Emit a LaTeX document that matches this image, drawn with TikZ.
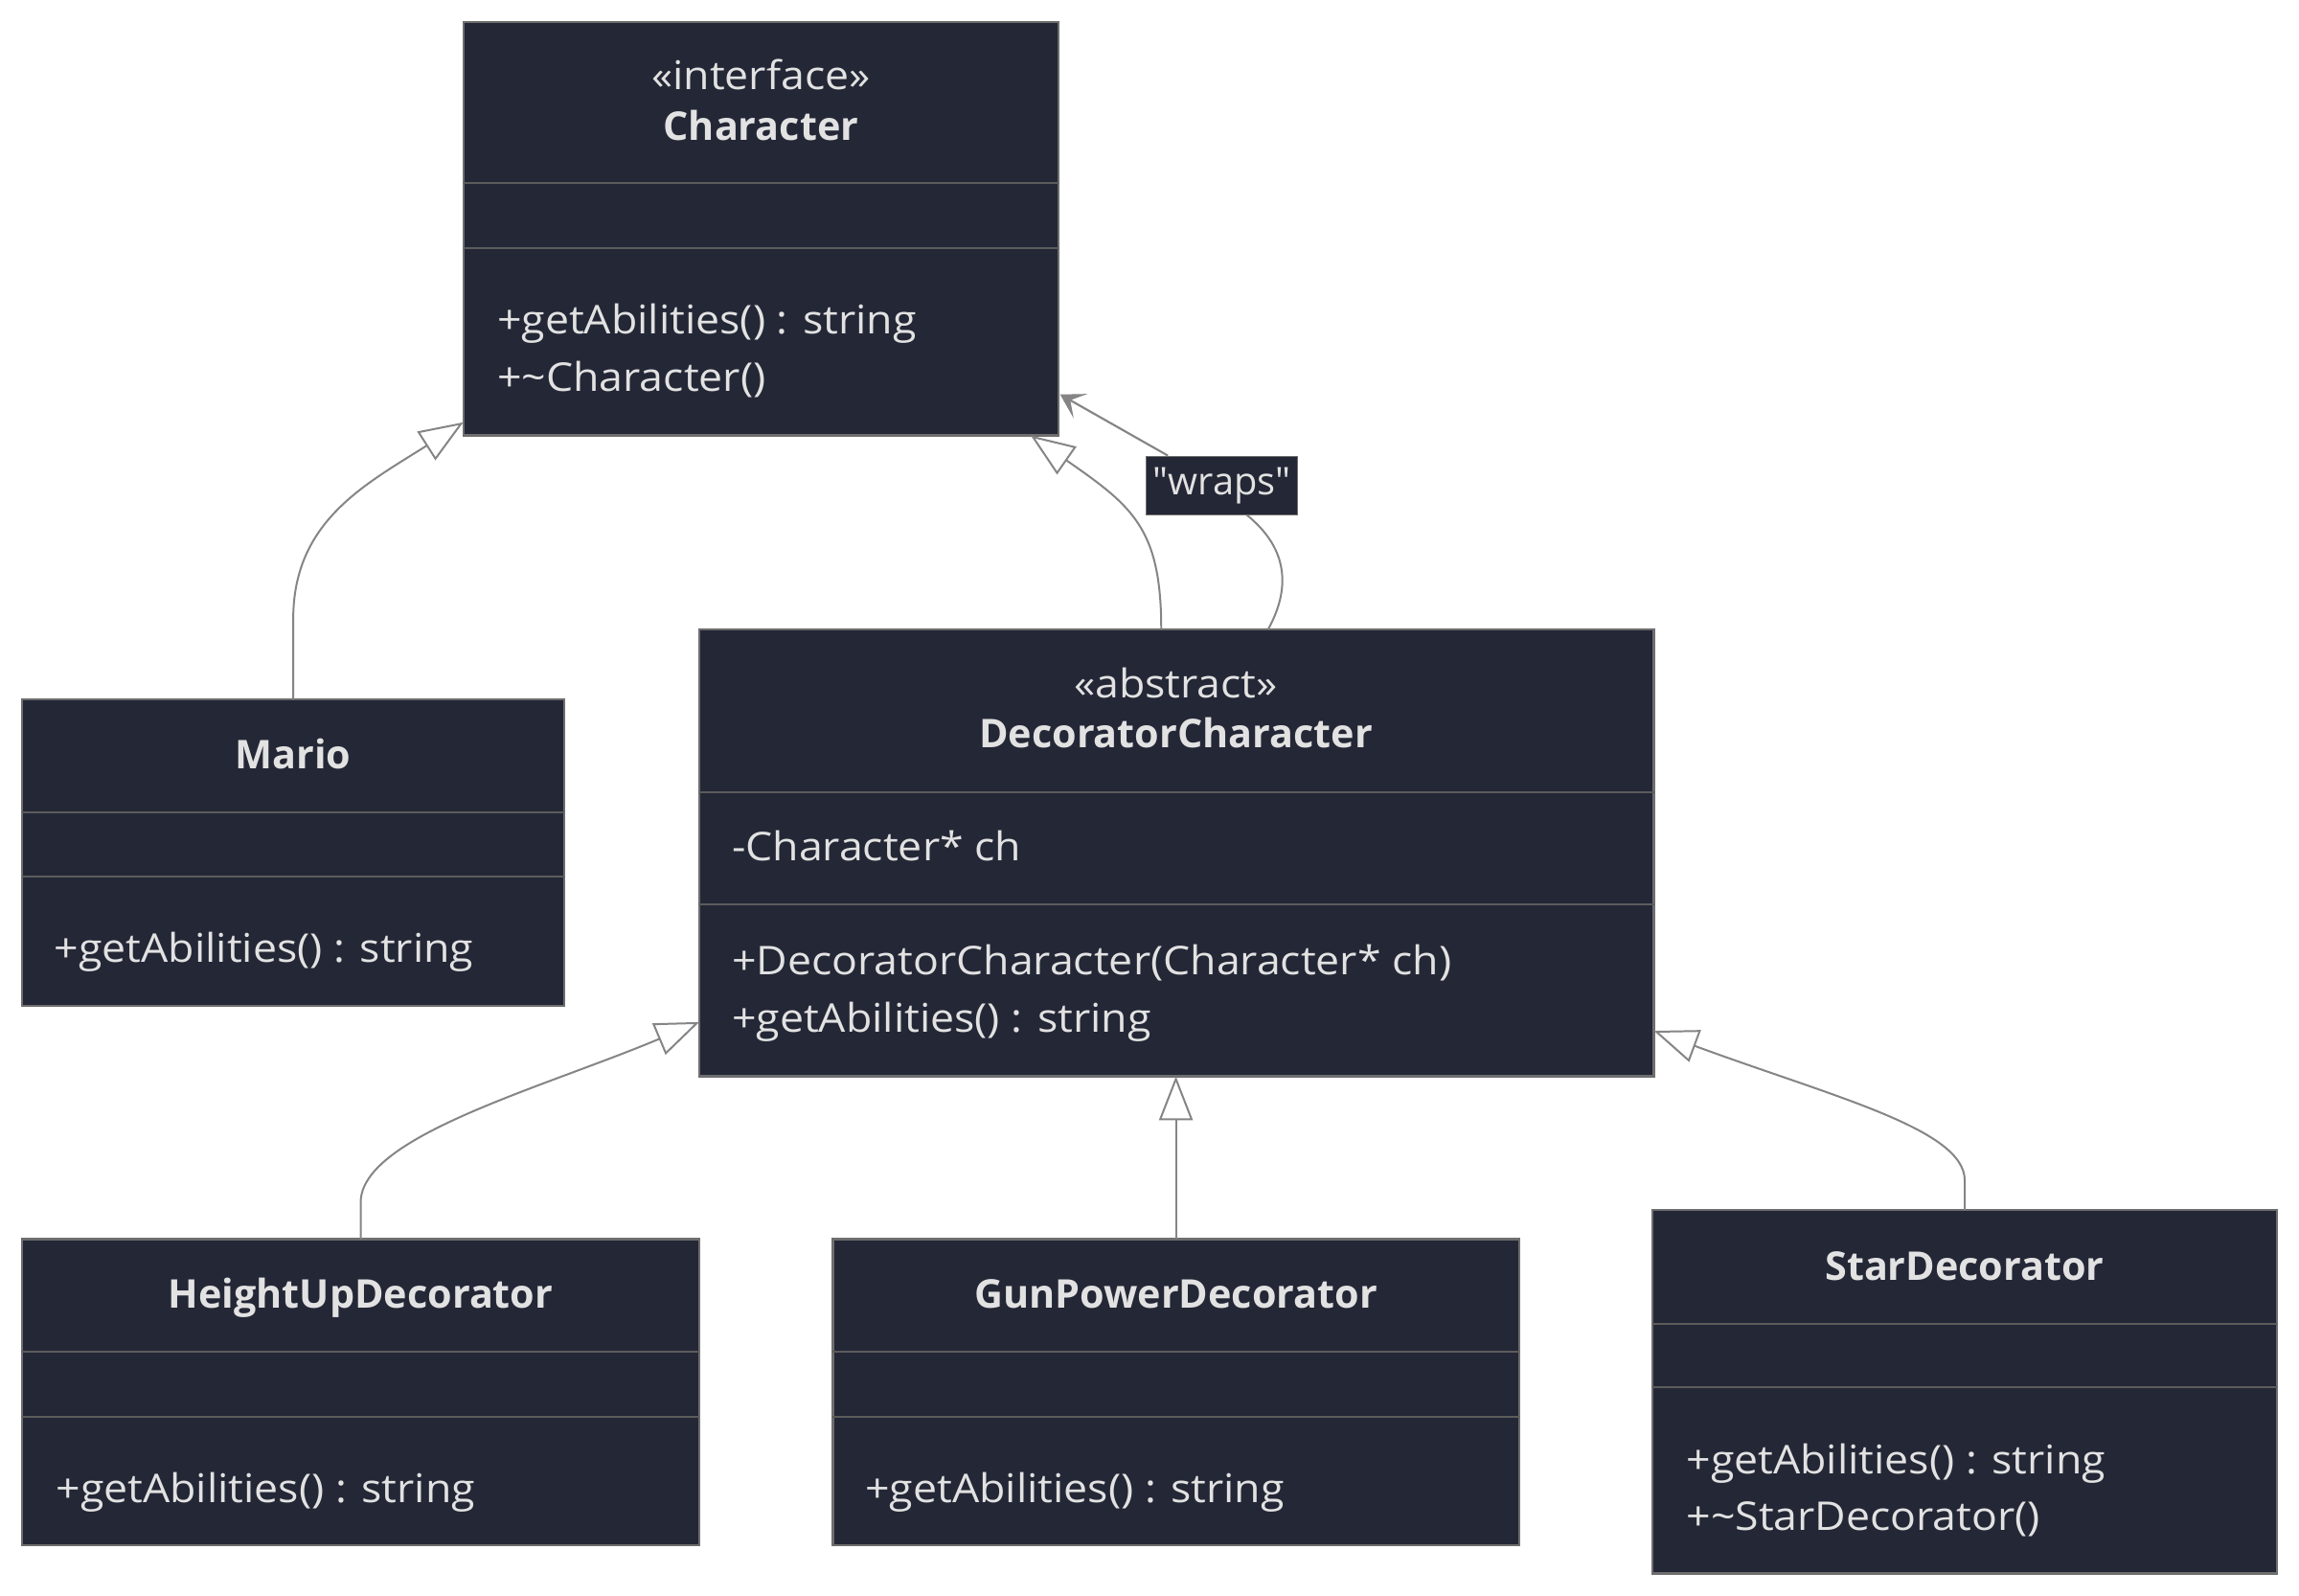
\documentclass[tikz,border=0pt]{standalone}
\usepackage{fontspec}
\setmainfont{Open Sans}
\newfontfamily\regfont{Open Sans}[FakeStretch=1.08]
\newfontfamily\lblfont{Open Sans}[Ligatures=TeXOff]
\usetikzlibrary{arrows.meta,calc}
\definecolor{boxfill}{HTML}{242736}
\definecolor{boxline}{HTML}{6E6E6E}
\definecolor{divline}{HTML}{5C5C5C}
\definecolor{txt}{HTML}{E2E2E2}
\definecolor{conn}{HTML}{858585}
\begin{document}
\begin{tikzpicture}[x=1pt,y=-1pt,
  cls/.style={draw=boxline,fill=boxfill,line width=1.5pt,inner sep=0pt,outer sep=0pt,anchor=north west},
  divider/.style={draw=divline,line width=1.3pt},
  ttl/.style={text=txt,font=\fontsize{27}{30}\selectfont\bfseries,anchor=base,inner sep=0pt},
  stereo/.style={text=txt,font=\regfont\fontsize{27}{30}\selectfont,anchor=base,inner sep=0pt},
  member/.style={text=txt,font=\regfont\fontsize{27}{30}\selectfont,anchor=base west,inner sep=0pt},
  inh/.style={draw=conn,line width=1.3pt,-{Triangle[open,length=30pt,width=23pt,line width=1.3pt]}},
  assoc/.style={draw=conn,line width=1.4pt,-{Stealth[length=16pt,width=19pt,inset=8pt]}},
  plain/.style={draw=conn,line width=1.3pt},
  lbl/.style={fill=boxfill,draw=boxline,line width=0.6pt,text=txt,font=\lblfont\fontsize{26}{30}\selectfont,inner sep=0pt,minimum width=103pt,minimum height=40pt}
]
\useasboundingbox (0,0) rectangle (1568,1088);
\fill[white] (0,0) rectangle (1568,1088);

% Character
\node[cls,minimum width=406pt,minimum height=282pt] (char) at (316,15) {};
\draw[divider] (316,125) -- (722,125);
\draw[divider] (316,169) -- (722,169);
\node[stereo] (charst) at (519,61) {«interface»};
\node[ttl] (charti) at (519,96) {Character};
\node[member] (charm1) at (339,228) {+getAbilities() : string};
\node[member] (charm2) at (339,267) {+\textasciitilde Character()};

% Mario
\node[cls,minimum width=370pt,minimum height=209pt] (mario) at (15,477) {};
\draw[divider] (15,554) -- (385,554);
\draw[divider] (15,598) -- (385,598);
\node[ttl] (marioti) at (200,524) {Mario};
\node[member] (mariom1) at (37,656) {+getAbilities() : string};

% DecoratorCharacter
\node[cls,minimum width=651pt,minimum height=305pt] (dec) at (477,429) {};
\draw[divider] (477,540) -- (1128,540);
\draw[divider] (477,617) -- (1128,617);
\node[stereo] (decst) at (802,476) {«abstract»};
\node[ttl] (decti) at (802,510) {DecoratorCharacter};
\node[member] (deca1) at (499,587) {-Character* ch};
\node[member] (decm1) at (499,665) {+DecoratorCharacter(Character* ch)};
\node[member] (decm2) at (499,704) {+getAbilities() : string};

% HeightUpDecorator
\node[cls,minimum width=462pt,minimum height=209pt] (hud) at (15,845) {};
\draw[divider] (15,922) -- (477,922);
\draw[divider] (15,966) -- (477,966);
\node[ttl] (hudti) at (246,892) {HeightUpDecorator};
\node[member] (hudm1) at (38,1025) {+getAbilities() : string};

% GunPowerDecorator
\node[cls,minimum width=468pt,minimum height=209pt] (gpd) at (568,845) {};
\draw[divider] (568,922) -- (1036,922);
\draw[divider] (568,966) -- (1036,966);
\node[ttl] (gpdti) at (802,892) {GunPowerDecorator};
\node[member] (gpdm1) at (590,1025) {+getAbilities() : string};

% StarDecorator
\node[cls,minimum width=426pt,minimum height=248pt] (star) at (1127,825) {};
\draw[divider] (1127,903) -- (1553,903);
\draw[divider] (1127,946) -- (1553,946);
\node[ttl] (starti) at (1340,873) {StarDecorator};
\node[member] (starm1) at (1150,1005) {+getAbilities() : string};
\node[member] (starm2) at (1150,1044) {+\textasciitilde StarDecorator()};

% wraps label
\node[lbl] (wraps) at (833.5,331) {"wraps"};

% connectors
\draw[inh] (mario.north) -- ++(0,-55) .. controls (200,355) and (250,330) .. ($(char.south west)+(0,-9)$);
\draw[inh] ($(dec.north west)+(315,0)$) .. controls (792,360) and (772,345) .. ($(char.south east)+(-19,0)$);
\draw[plain] ($(dec.north west)+(388,0)$) .. controls (882,398) and (876,372) .. ($(wraps.south)+(17,0)$);
\draw[assoc] ($(wraps.north)+(-37,0)$) -- ($(char.south east)+(1,-28)$);
\draw[inh] (hud.north) -- ++(0,-25) .. controls (246,775) and (370,742) .. ($(dec.south west)+(0,-37)$);
\draw[inh] (gpd.north) -- ($(dec.south west)+(325,0)$);
\draw[inh] (star.north) -- ++(0,-20) .. controls (1340,770) and (1250,748) .. ($(dec.south east)+(0,-31)$);
\end{tikzpicture}
\end{document}
